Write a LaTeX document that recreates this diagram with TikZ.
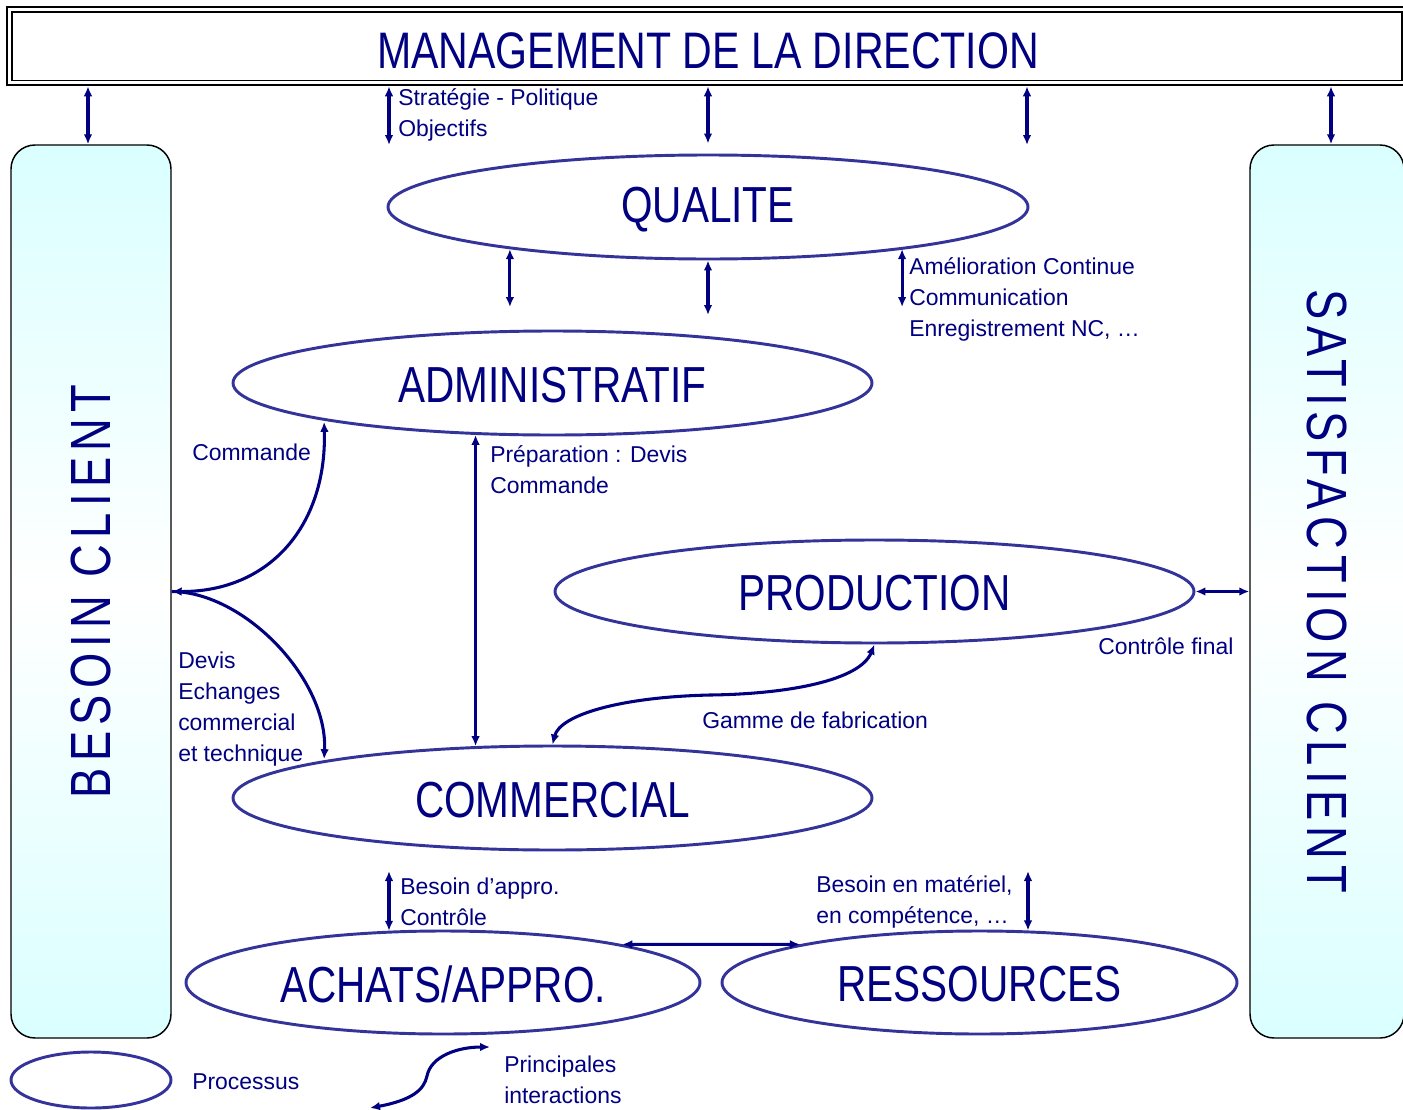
\documentclass[tikz,border=0pt]{standalone}
\usepackage{fontspec}
\setmainfont{Liberation Sans}
\newfontfamily\bigfont[FakeStretch=0.8]{Liberation Sans}
\newfontfamily\sidefont[FakeStretch=0.8,LetterSpace=11]{Liberation Sans}
\usetikzlibrary{shapes.geometric,arrows.meta}
\definecolor{navy}{RGB}{0,0,128}
\definecolor{edgeblue}{RGB}{51,51,153}
\definecolor{boxcyan}{RGB}{218,255,255}
\begin{document}
\begin{tikzpicture}[x=0.75pt,y=-0.75pt,
  proc/.style={ellipse, draw=edgeblue, line width=2.2pt, inner sep=0pt},
  proctext/.style={text=navy, inner sep=0pt, font=\bigfont\fontsize{38}{38}\selectfont},
  sidebox/.style={draw=black, line width=1.1pt, rounded corners=18pt,
    top color=boxcyan, bottom color=boxcyan, middle color=white,
    minimum height=669.75pt, inner sep=0pt},
  sidelabel/.style={text=navy, font=\sidefont\fontsize{42.5}{42.5}\selectfont, inner sep=0pt},
  lbl/.style={text=navy, font=\fontsize{17.2}{23.3}\selectfont, align=left, inner sep=0pt, anchor=west},
  arr/.style={draw=navy, line width=2.3pt, {Latex[length=7.5pt,width=6.5pt]}-{Latex[length=7.5pt,width=6.5pt]}},
  arrone/.style={draw=navy, line width=2.3pt, -{Latex[length=7.5pt,width=6.5pt]}},
]
\useasboundingbox (0,0) rectangle (1403,1110);

% banner
\node[draw=black, double=white, double distance=2.25pt, line width=1.4pt, outer sep=2.5pt,
  minimum width=1046.25pt, minimum height=55.1pt, inner sep=0pt] (banner) at (707,46.25) {};
\node[text=navy, inner sep=0pt, font=\bigfont\fontsize{38.5}{38.5}\selectfont] (bannertxt) at (708,51) {MANAGEMENT DE LA DIRECTION};

% side boxes
\node[sidebox, minimum width=120pt] (besoin) at (91,591.5) {};
\node[sidelabel, rotate=90] (besointxt) at (besoin.center) {BESOIN CLIENT};
\node[sidebox, minimum width=115.5pt] (satisf) at (1327,591.5) {};
\node[sidelabel, rotate=-90] (satisftxt) at (satisf.center) {SATISFACTION CLIENT};

% processes
\node[proc, minimum width=480pt, minimum height=78pt] (qualite) at (708,207) {};
\node[proc, minimum width=479.25pt, minimum height=78pt] (admin) at (552.5,383) {};
\node[proc, minimum width=479.25pt, minimum height=77.25pt] (prod) at (874.5,591.5) {};
\node[proc, minimum width=479.25pt, minimum height=78pt] (comm) at (552.5,798) {};
\node[proc, minimum width=385.5pt, minimum height=77.25pt] (achats) at (443,982.5) {};
\node[proc, minimum width=386.25pt, minimum height=77.25pt] (ress) at (979.5,982.5) {};
\node[proc, minimum width=120pt, minimum height=42pt] (legproc) at (91,1080) {};

\node[proctext] (qualitetxt) at (708,210) {QUALITE};
\node[proctext] (admintxt) at (552.5,385) {ADMINISTRATIF};
\node[proctext] (prodtxt) at (874.5,593) {PRODUCTION};
\node[proctext] (commtxt) at (552.5,800) {COMMERCIAL};
\node[proctext] (achatstxt) at (443,984) {ACHATS/APPRO.};
\node[proctext] (resstxt) at (979.5,984) {RESSOURCES};

% free ends
\coordinate (strat) at (389,145);
\coordinate (qr) at (1027,145);
\coordinate (qa1) at (511,307);
\coordinate (qa2) at (709,315);
\coordinate (qa3) at (898,307);
\coordinate (ca) at (389,871);
\coordinate (rs) at (1027,871);
\coordinate (lg1) at (370,1108);
\coordinate (lg2) at (490,1047);
\coordinate (gm) at (710,695);

% arrows from management
\draw[arr] ([xshift=-2.25pt]banner.south -| besoin.north) -- ([xshift=-2.25pt]besoin.north);
\draw[arr] (banner.south -| strat) -- (strat);
\draw[arr] (banner.south -| qualite.north) -- ([yshift=7.5pt]qualite.north);
\draw[arr] (banner.south -| qr) -- (qr);
\draw[arr] ([xshift=3pt]banner.south -| satisf.north) -- ([xshift=3pt]satisf.north);

% qualite to below
\draw[arr] (qualite.192) -- (qualite.192 |- qa1);
\draw[arr] (qualite.south) -- (qualite.south |- qa2);
\draw[arr] ([xshift=-3pt]qualite.348) -- ([xshift=-3pt]qualite.348 |- qa3);

% admin - commercial
\draw[arr] (admin.214) -- (comm.146);

% besoin client curves
\draw[arr] ([xshift=-6pt]admin.190) .. controls (327,525) and (270,592) .. (besoin.east);
\draw[arrone] (besoin.east) .. controls (245,592) and (328,680) .. ([xshift=-6pt]comm.170);

% production - satisfaction
\draw[arr] (prod.east) -- (satisf.west);

% gamme de fabrication
\draw[arr] (prod.south) .. controls (860,680) and (790,694) .. (gm) .. controls (620,697) and (560,715) .. (comm.north);

% commercial - achats - ressources
\draw[arr] (ca) -- (ca |- achats.137);
\draw[arr] (achats.12) -- (ress.168);
\draw[arr] (ress.47) -- (ress.47 |- rs);

% legend curve
\draw[arr] (lg1) .. controls (412,1100) and (424,1090) .. (427,1076) .. controls (431,1056) and (458,1047) .. (lg2);

% labels
\node[lbl] (t1) at (398,114.5) {Stratégie - Politique\\Objectifs};
\node[lbl] (t2) at (909,299.5) {Amélioration Continue\\Communication\\Enregistrement NC, …};
\node[lbl] (t3) at (192,452) {Commande};
\node[lbl] (t4) at (490,469.5) {Préparation : Devis\\Commande};
\node[lbl] (t5) at (178,709) {Devis\\Echanges\\commercial\\et technique};
\node[lbl] (t6) at (1098,646) {Contrôle final};
\node[lbl] (t7) at (702,720) {Gamme de fabrication};
\node[lbl] (t8) at (400,901.5) {Besoin d’appro.\\Contrôle};
\node[lbl] (t9) at (816,901.5) {Besoin en matériel,\\en compétence, …};
\node[lbl] (t10) at (192,1082) {Processus};
\node[lbl] (t11) at (504,1079.5) {Principales\\interactions};
\end{tikzpicture}
\end{document}
